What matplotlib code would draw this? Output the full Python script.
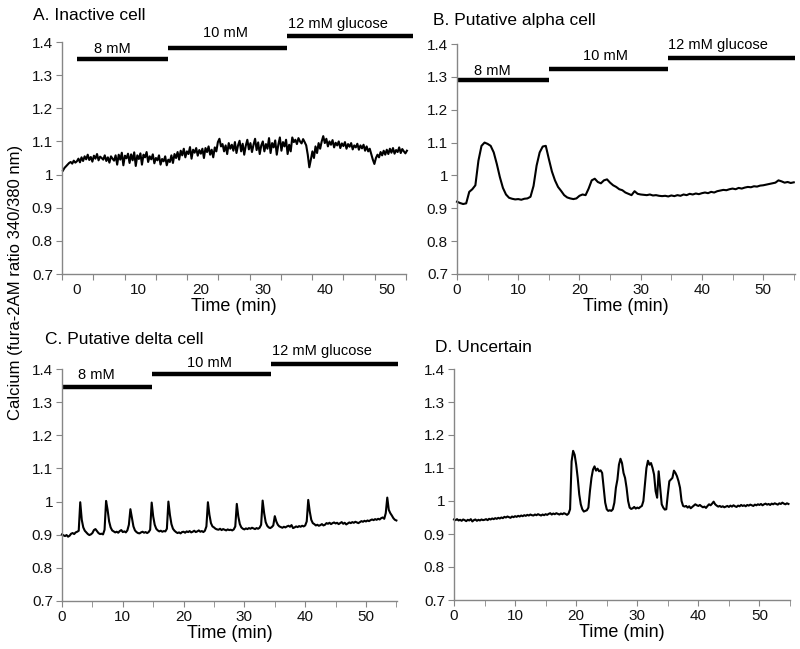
import numpy as np
import matplotlib
matplotlib.use("Agg")
import matplotlib.pyplot as plt

plt.rcParams['font.family'] = ['Liberation Sans', 'DejaVu Sans']

# ---- data (fura-2AM ratio) ----
# panel A: sampled every 0.25 min starting at -2.25 min
a_start, a_step = -2.25, 0.25
a_vals = [1.012, 1.02, 1.025, 1.03, 1.035, 1.038, 1.033, 1.042, 1.036,
          1.04, 1.048, 1.037, 1.052, 1.041, 1.055, 1.046, 1.06, 1.044, 1.053, 1.039, 1.057, 1.048, 1.062, 1.043, 1.054, 1.05, 1.045, 1.058, 1.041,
          1.052, 1.036, 1.055, 1.048, 1.042, 1.058, 1.03, 1.06, 1.045, 1.066, 1.028, 1.057, 1.049, 1.063, 1.035, 1.061, 1.043, 1.067, 1.026, 1.058,
          1.047, 1.064, 1.03, 1.06, 1.052, 1.068, 1.038, 1.055, 1.046, 1.061, 1.034, 1.05, 1.043, 1.058, 1.03, 1.047, 1.04, 1.055, 1.028, 1.045,
          1.038, 1.058, 1.035, 1.062, 1.05, 1.068, 1.045, 1.072, 1.058, 1.078, 1.052, 1.07, 1.062, 1.083, 1.048, 1.075, 1.066, 1.08, 1.057, 1.074,
          1.063, 1.078, 1.05, 1.08, 1.068, 1.085, 1.06, 1.075, 1.052, 1.082, 1.07, 1.098, 1.108, 1.085, 1.092, 1.07, 1.088, 1.062, 1.095, 1.078,
          1.09, 1.072, 1.098, 1.065, 1.088, 1.102, 1.07, 1.093, 1.06, 1.087, 1.105, 1.076, 1.095, 1.068, 1.09, 1.108, 1.074, 1.097, 1.062, 1.088,
          1.1, 1.07, 1.092, 1.078, 1.11, 1.065, 1.095, 1.082, 1.103, 1.06, 1.09, 1.112, 1.072, 1.098, 1.085, 1.105, 1.062, 1.09, 1.07, 1.112,
          1.098, 1.105, 1.092, 1.11, 1.1, 1.094, 1.107, 1.098, 1.088, 1.06, 1.022, 1.045, 1.07, 1.05, 1.085, 1.065, 1.095, 1.078, 1.1, 1.116,
          1.095, 1.108, 1.085, 1.1, 1.09, 1.104, 1.082, 1.096, 1.088, 1.1, 1.08, 1.094, 1.086, 1.098, 1.078, 1.092, 1.084, 1.095, 1.076, 1.088,
          1.082, 1.093, 1.075, 1.088, 1.079, 1.09, 1.072, 1.085, 1.07, 1.078, 1.062, 1.045, 1.032, 1.05, 1.06, 1.052, 1.068, 1.058, 1.072, 1.06,
          1.075, 1.062, 1.078, 1.066, 1.08, 1.063, 1.074, 1.068, 1.082, 1.065, 1.077, 1.07, 1.064, 1.072]

# panel B: every 0.5 min from 0
b_start, b_step = 0.0, 0.5
b_vals = [0.92, 0.916, 0.913, 0.915, 0.95, 0.958, 0.97, 1.045, 1.09, 1.1,
          1.096, 1.09, 1.07, 1.035, 0.995, 0.962, 0.942, 0.932, 0.929, 0.927,
          0.928, 0.926, 0.929, 0.93, 0.935, 0.968, 1.03, 1.07, 1.088, 1.09,
          1.05, 1.012, 0.985, 0.965, 0.953, 0.94, 0.933, 0.93, 0.928, 0.93,
          0.938, 0.942, 0.94, 0.96, 0.985, 0.99, 0.98, 0.976, 0.985, 0.988,
          0.978, 0.97, 0.965, 0.958, 0.955, 0.948, 0.944, 0.94, 0.952, 0.944,
          0.942, 0.941, 0.94, 0.942, 0.939, 0.94, 0.938, 0.937, 0.938, 0.936,
          0.939, 0.937, 0.94, 0.938, 0.942, 0.94, 0.944, 0.942, 0.945, 0.943,
          0.946, 0.948, 0.946, 0.95, 0.948, 0.952, 0.954, 0.956, 0.955, 0.958,
          0.96, 0.958, 0.962, 0.96, 0.963, 0.965, 0.964, 0.967, 0.966, 0.969,
          0.97, 0.972, 0.974, 0.976, 0.978, 0.985, 0.982, 0.978, 0.98, 0.977,
          0.979]

# panel C: every 0.25 min from 0
c_start, c_step = 0.0, 0.25
c_vals = [0.901, 0.898, 0.896, 0.899, 0.894, 0.897, 0.903, 0.905, 0.902, 0.907, 0.909, 0.912, 0.998, 0.945, 0.922, 0.912, 0.907, 0.902, 0.899, 0.901,
          0.905, 0.914, 0.917, 0.911, 0.905, 0.902, 0.903, 0.901, 0.915, 1.002, 0.975, 0.94, 0.922, 0.913, 0.91, 0.907, 0.909, 0.906, 0.911, 0.914,
          0.908, 0.91, 0.907, 0.913, 0.93, 0.977, 0.95, 0.925, 0.913, 0.908, 0.905, 0.904, 0.907, 0.909, 0.906, 0.908, 0.905, 0.908, 0.915, 0.997,
          0.955, 0.93, 0.918, 0.913, 0.91, 0.912, 0.909, 0.911, 0.91, 0.918, 1.0, 0.96, 0.932, 0.918, 0.912, 0.908, 0.905, 0.907, 0.904, 0.908,
          0.909, 0.906, 0.91, 0.908, 0.911, 0.907, 0.909, 0.912, 0.908, 0.91, 0.913, 0.909, 0.911, 0.908, 0.912, 0.925, 0.998, 0.96, 0.935, 0.925,
          0.922, 0.918, 0.916, 0.915, 0.918, 0.914, 0.917, 0.915, 0.913, 0.916, 0.914, 0.915, 0.913, 0.916, 0.925, 0.993, 0.955, 0.932, 0.922, 0.918,
          0.916, 0.919, 0.917, 0.92, 0.918, 0.921, 0.919, 0.917, 0.92, 0.918, 0.921, 0.93, 1.003, 0.965, 0.938, 0.927, 0.922, 0.92, 0.923, 0.928,
          0.956, 0.94, 0.93, 0.925, 0.923, 0.921, 0.924, 0.922, 0.925, 0.927, 0.924, 0.929, 0.92, 0.922, 0.925, 0.923, 0.926, 0.924, 0.927, 0.925,
          0.928, 0.94, 1.005, 0.97, 0.945, 0.935, 0.932, 0.928, 0.93, 0.927, 0.929, 0.932, 0.928, 0.93, 0.935, 0.933, 0.936, 0.932, 0.935, 0.937,
          0.934, 0.936, 0.932, 0.935, 0.938, 0.933, 0.936, 0.931, 0.934, 0.937, 0.935, 0.938, 0.936, 0.939, 0.937, 0.935, 0.938, 0.941, 0.939, 0.942,
          0.94, 0.943, 0.941, 0.944, 0.946, 0.944, 0.947, 0.945, 0.948, 0.946, 0.95, 0.952, 0.948, 0.965, 1.012, 0.975, 0.965, 0.958, 0.95, 0.945,
          0.943]

# panel D: every 0.25 min from 0
d_start, d_step = 0.0, 0.25
d_vals = [0.944, 0.942, 0.945, 0.941, 0.943, 0.940, 0.944, 0.942, 0.939, 0.943, 0.941, 0.945, 0.938, 0.942, 0.944, 0.940, 0.943, 0.941, 0.944, 0.942,
          0.943, 0.945, 0.942, 0.946, 0.944, 0.947, 0.945, 0.948, 0.946, 0.949, 0.947, 0.950, 0.948, 0.952, 0.950, 0.953, 0.951, 0.949, 0.953, 0.951,
          0.954, 0.952, 0.955, 0.953, 0.956, 0.954, 0.957, 0.955, 0.958, 0.956, 0.959, 0.957, 0.956, 0.959, 0.957, 0.960, 0.958, 0.956, 0.959, 0.957,
          0.96, 0.958, 0.961, 0.963, 0.959, 0.962, 0.96, 0.963, 0.961, 0.959, 0.962, 0.96, 0.963, 0.961, 0.958, 0.962, 0.975, 1.12, 1.152, 1.14,
          1.11, 1.07, 1.02, 0.99, 0.975, 0.968, 0.97, 0.972, 0.98, 1.03, 1.07, 1.095, 1.105, 1.092, 1.098, 1.09, 1.093, 1.085, 1.04, 0.995,
          0.975, 0.97, 0.972, 0.97, 0.975, 0.995, 1.04, 1.065, 1.11, 1.128, 1.115, 1.085, 1.07, 1.04, 1.0, 0.98, 0.976, 0.978, 0.982, 0.977,
          0.98, 0.978, 0.982, 0.985, 1.0, 1.05, 1.1, 1.122, 1.11, 1.115, 1.1, 1.08, 1.03, 1.01, 1.09, 1.04, 0.99, 0.98, 0.974, 0.975,
          1.02, 1.06, 1.065, 1.07, 1.092, 1.085, 1.075, 1.06, 1.04, 1.0, 0.985, 0.983, 0.985, 0.98, 0.984, 0.978, 0.982, 0.986, 0.99, 0.987,
          0.985, 0.988, 0.984, 0.981, 0.983, 0.979, 0.985, 0.99, 0.987, 0.992, 0.998, 0.99, 0.986, 0.983, 0.985, 0.982, 0.984, 0.981, 0.983, 0.985,
          0.982, 0.986, 0.983, 0.987, 0.984, 0.982, 0.986, 0.984, 0.988, 0.985, 0.987, 0.984, 0.988, 0.986, 0.989, 0.987, 0.985, 0.989, 0.987, 0.99,
          0.988, 0.991, 0.987, 0.99, 0.992, 0.989, 0.991, 0.988, 0.992, 0.99, 0.993, 0.991, 0.989, 0.993, 0.991, 0.995, 0.992, 0.99, 0.993, 0.991]

# glucose periods: label, start, end (min) -- per panel
glucose_labels = ['8 mM', '10 mM', '12 mM glucose']
a_periods = [(0, 14.7), (14.7, 33.9), (33.9, 54.2)]
b_periods = [(0, 15.0), (15.0, 34.5), (34.5, 55.2)]
c_periods = [(0, 14.8), (14.8, 34.4), (34.4, 55.2)]

titles = ['A. Inactive cell', 'B. Putative alpha cell', 'C. Putative delta cell', 'D. Uncertain']
y_ticks = [0.7, 0.8, 0.9, 1.0, 1.1, 1.2, 1.3, 1.4]
y_labels = ['0.7', '0.8', '0.9', '1', '1.1', '1.2', '1.3', '1.4']

W, H = 800, 649
fig = plt.figure(figsize=(W / 100, H / 100), dpi=100)


def px_axes(l, r, t, b):
    return fig.add_axes([l / W, 1 - b / H, (r - l) / W, (b - t) / H])


def style(ax, xlim, label_ticks=True):
    ax.set_xlim(*xlim)
    ax.set_ylim(0.7, 1.4)
    for s in ['top', 'right']:
        ax.spines[s].set_visible(False)
    for s in ['left', 'bottom']:
        ax.spines[s].set_color('#868686')
        ax.spines[s].set_linewidth(1.0)
    ax.set_yticks(y_ticks)
    ax.set_yticklabels(y_labels)
    ax.tick_params(axis='both', which='both', direction='out', length=4,
                   color='#868686', labelsize=11, labelcolor='#111111', pad=2.5)
    if label_ticks:
        ax.set_xticks(np.arange(0, 51, 10))
        ax.set_xticks(np.arange(5, 56, 10), minor=True)
    ax.set_xlabel('Time (min)', fontsize=13, labelpad=0.5)


def trace(ax, start, step, vals):
    t = start + step * np.arange(len(vals))
    ax.plot(t, vals, color='black', lw=1.5, clip_on=False)


def bars(ax, periods, bar_y, text_xy):
    for (x0, x1), y, lab, (tx, ty) in zip(periods, bar_y, glucose_labels, text_xy):
        ax.plot([x0, x1], [y, y], color='black', lw=3.2, solid_capstyle='butt', clip_on=False)
        ax.text(tx, ty, lab, ha='center', va='center', fontsize=10.5)


# panel A (its x axis is offset like in the original)
axA = px_axes(62, 406, 42, 274)
style(axA, (-2.4, 53.1), label_ticks=False)
axA.set_xticks(np.linspace(-2.4, 53.1, 12))
axA.set_xticklabels([])
axA.set_xticks(np.arange(0, 51, 10), minor=True)
axA.set_xticklabels([str(v) for v in range(0, 51, 10)], minor=True)
axA.tick_params(axis='x', which='minor', length=0, pad=6.5)
trace(axA, a_start, a_step, a_vals)
bars(axA, a_periods, [1.348, 1.383, 1.418], [(5.7, 1.379), (24.0, 1.427), (42.1, 1.455)])

axB = px_axes(457, 795, 44, 274)
style(axB, (0, 55.2))
trace(axB, b_start, b_step, b_vals)
bars(axB, b_periods, [1.29, 1.324, 1.357], [(5.7, 1.318), (24.2, 1.364), (42.6, 1.397)])

axC = px_axes(62, 397, 369, 601)
style(axC, (0, 55.1))
trace(axC, c_start, c_step, c_vals)
bars(axC, c_periods, [1.346, 1.385, 1.415], [(5.7, 1.382), (24.3, 1.418), (42.8, 1.454)])

axD = px_axes(454, 790, 369, 600)
style(axD, (0, 55))
trace(axD, d_start, d_step, d_vals)

# panel titles
for (x, y), txt in zip([(33, 15), (433, 21), (45, 340), (435, 347)], titles):
    fig.text(x / W, 1 - y / H, txt, ha='left', va='center', fontsize=12.5)

fig.text(16 / W, 1 - 282 / H, 'Calcium (fura-2AM ratio 340/380 nm)', rotation=90,
         ha='center', va='center', fontsize=12)

fig.savefig('out.png', dpi=100)
